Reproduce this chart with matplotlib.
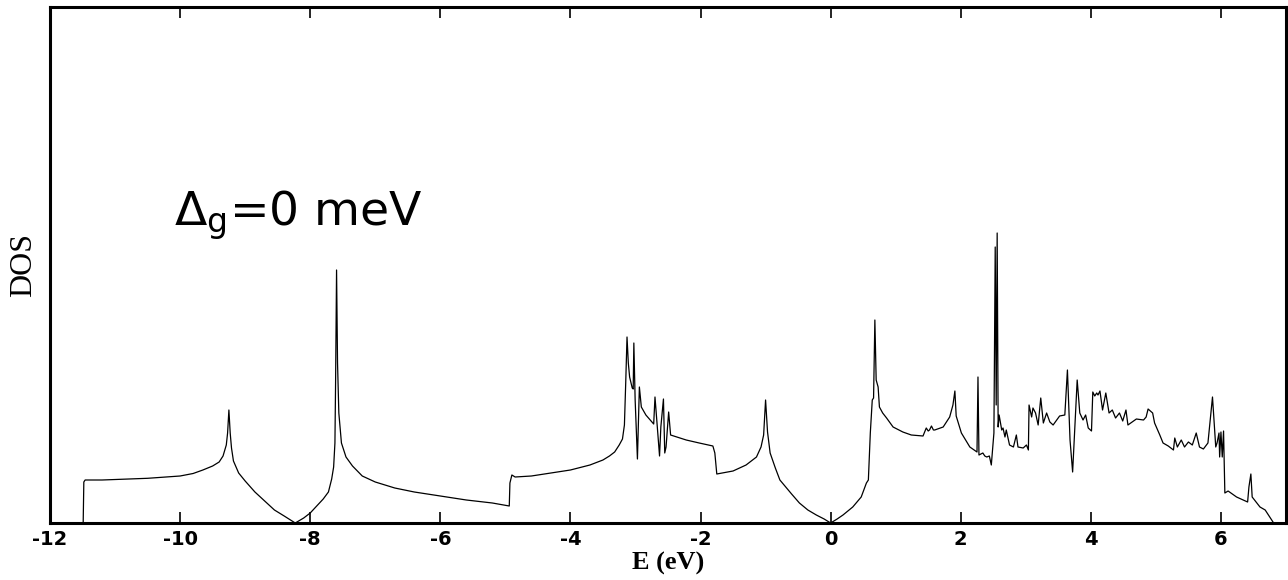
import matplotlib
matplotlib.use("Agg")
import matplotlib.pyplot as plt

# Energy (eV) and DOS (arbitrary units)
energy = [-11.49, -11.48, -11.46, -11.2, -11.0, -10.5, -10.0, -9.8, -9.65, -9.5, -9.40, -9.34, -9.29, -9.27,
          -9.25, -9.23, -9.21, -9.18, -9.10, -9.0, -8.85, -8.7, -8.55, -8.40, -8.23, -8.10, -8.0, -7.90,
          -7.80, -7.72, -7.67, -7.64, -7.62, -7.61, -7.595, -7.58, -7.56, -7.52, -7.45, -7.35, -7.2, -7.0,
          -6.7, -6.4, -6.0, -5.6, -5.2, -4.94, -4.93, -4.90, -4.85, -4.6, -4.3, -4.0, -3.7, -3.5, -3.40,
          -3.32, -3.25, -3.20, -3.17, -3.15, -3.13, -3.11, -3.09, -3.05, -3.035, -3.025, -3.005, -2.97,
          -2.94, -2.91, -2.84, -2.72, -2.70, -2.63, -2.61, -2.57, -2.55, -2.53, -2.49, -2.46, -2.22, -2.02,
          -1.81, -1.78, -1.75, -1.50, -1.30, -1.14, -1.07, -1.03, -1.00, -0.97, -0.93, -0.85, -0.78, -0.60,
          -0.48, -0.35, -0.22, -0.10, 0.0, 0.10, 0.19, 0.34, 0.47, 0.55, 0.58, 0.61, 0.64, 0.66, 0.68, 0.70,
          0.73, 0.75, 0.80, 0.86, 0.96, 1.11, 1.24, 1.42, 1.47, 1.50, 1.52, 1.55, 1.58, 1.60, 1.73, 1.83,
          1.88, 1.91, 1.93, 2.01, 2.14, 2.25, 2.265, 2.28, 2.34, 2.37, 2.40, 2.44, 2.47, 2.51, 2.53, 2.545,
          2.56, 2.575, 2.59, 2.63, 2.65, 2.68, 2.70, 2.75, 2.81, 2.855, 2.88, 2.96, 3.01, 3.04, 3.05, 3.09,
          3.11, 3.15, 3.19, 3.23, 3.27, 3.32, 3.37, 3.42, 3.52, 3.60, 3.64, 3.68, 3.72, 3.75, 3.79, 3.83,
          3.88, 3.92, 3.96, 4.01, 4.03, 4.06, 4.09, 4.11, 4.14, 4.18, 4.23, 4.28, 4.33, 4.38, 4.44, 4.49,
          4.54, 4.57, 4.70, 4.81, 4.85, 4.88, 4.95, 4.98, 5.06, 5.11, 5.19, 5.27, 5.29, 5.33, 5.39, 5.44,
          5.50, 5.56, 5.62, 5.67, 5.73, 5.80, 5.84, 5.87, 5.90, 5.92, 5.94, 5.97, 5.98, 6.00, 6.02, 6.04,
          6.06, 6.11, 6.24, 6.41, 6.43, 6.46, 6.48, 6.60, 6.68, 6.81]

dos = [0, 41, 43, 43, 43.5, 44.7, 47, 49.5, 53, 57, 61, 67, 78, 90,
       113, 90, 75, 62, 50, 42, 31, 22, 13, 7, 0, 5, 10, 17,
       24, 31, 44, 56, 80, 140, 253, 160, 110, 80, 66, 57, 47, 41,
       35, 31, 27, 23, 20, 17, 40, 48, 46, 47, 50, 53, 58, 63, 67,
       71, 78, 84, 98, 140, 186, 160, 146, 135, 134, 180, 123, 64,
       136, 116, 108, 99, 126, 67, 96, 124, 70, 76, 111, 88, 83, 80,
       77, 70, 49, 52, 58, 66, 76, 88, 123, 91, 70, 55, 43, 29,
       20, 13, 8, 4, 0, 4, 8, 16, 26, 40, 43, 90, 123, 125, 203, 143,
       136, 116, 110, 105, 96, 91, 88, 87, 95, 92, 93, 97, 93, 93, 96, 106,
       118, 132, 107, 90, 76, 71, 146, 68, 70, 67, 66, 67, 58, 90, 276, 118,
       290, 96, 108, 93, 95, 86, 93, 78, 76, 88, 76, 75, 78, 73, 118, 106,
       115, 110, 98, 125, 100, 110, 101, 98, 107, 108, 153, 83, 51, 90, 143, 110,
       103, 108, 95, 92, 131, 127, 130, 128, 132, 113, 130, 110, 113, 105, 110, 102,
       113, 98, 104, 103, 106, 114, 110, 100, 88, 80, 77, 73, 85, 76, 83, 76,
       81, 78, 90, 76, 74, 80, 106, 126, 96, 76, 80, 90, 66, 91, 66, 92,
       30, 32, 26, 21, 36, 49, 26, 16, 13, 0]

xticks = [-12, -10, -8, -6, -4, -2, 0, 2, 4, 6]
annotation = r"$\Delta_{\mathrm{g}}$=0 meV"

plt.rcParams["mathtext.fontset"] = "dejavusans"

fig = plt.figure(figsize=(12.88, 5.80), dpi=100)
ax = fig.add_axes([50 / 1288, 1 - 523 / 580, (1286 - 50) / 1288, (523 - 7) / 580])

ax.plot(energy, dos, color="black", lw=0.9)
ax.set_xlim(-12, 7)
ax.set_ylim(0, 516)

ax.set_xticks(xticks)
ax.set_xticklabels([str(t) for t in xticks], fontfamily="DejaVu Sans", fontweight="bold", fontsize=14)
ax.set_yticks([])
ax.tick_params(axis="x", direction="in", top=True, bottom=True, length=8, width=1.2, pad=5)
for s in ax.spines.values():
    s.set_linewidth(2.2)

ax.set_xlabel("E (eV)", fontfamily="Liberation Serif", fontweight="bold", fontsize=19, labelpad=2)
ax.set_ylabel("DOS", fontfamily="Liberation Serif", fontsize=23)
ax.yaxis.set_label_coords(-12 / 1236, 0.5)

ax.text(-10.09, 298, annotation, fontfamily="DejaVu Sans", fontsize=34, ha="left", va="baseline")

fig.savefig("out.png", dpi=100)
